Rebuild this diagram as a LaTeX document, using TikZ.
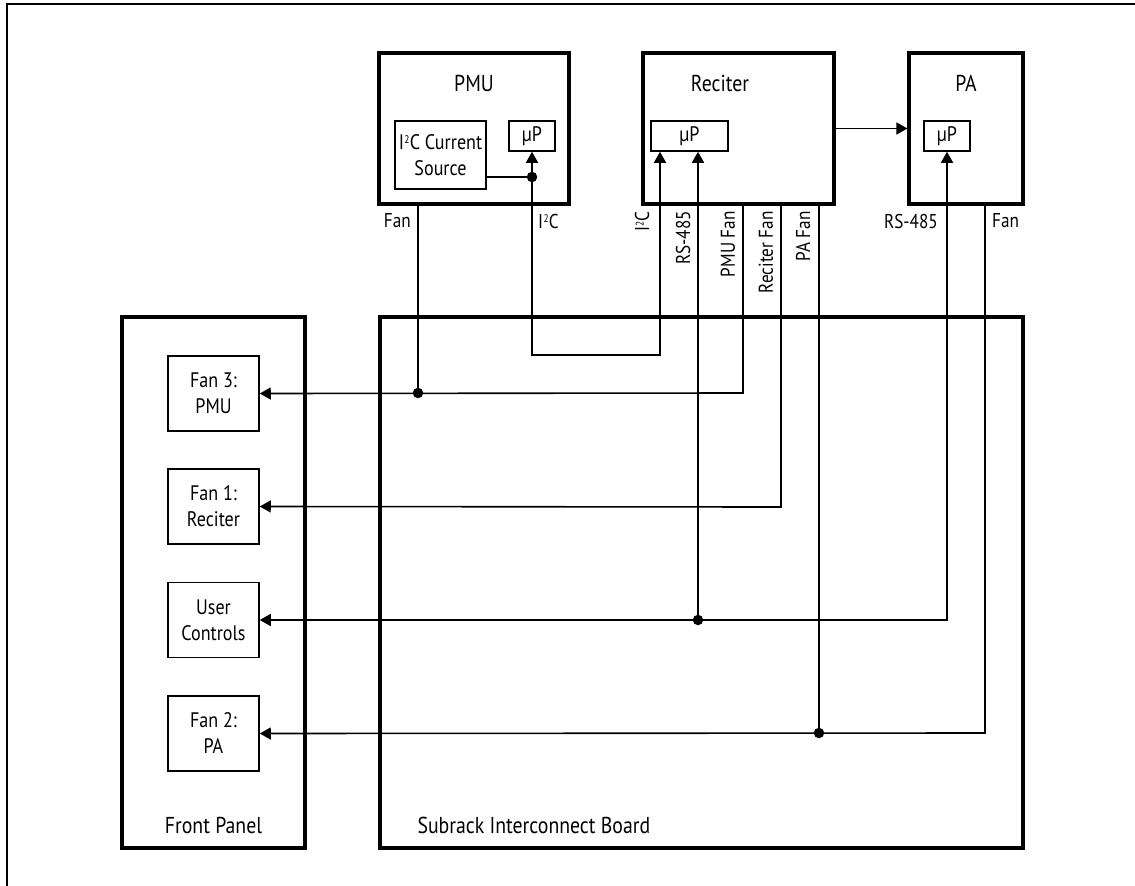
\documentclass[tikz,border=0pt]{standalone}
\usepackage{fontspec}
\setmainfont{PT Sans}[FakeStretch=0.86]
\usetikzlibrary{arrows.meta}
\newcommand{\IIC}{I\kern0.02em\raisebox{0.55ex}{\fontsize{11}{11}\selectfont 2}\kern0.01em C}
\begin{document}
\begin{tikzpicture}[x=1pt,y=-1pt,
  thickbox/.style={draw, line width=3.2pt, inner sep=0pt},
  thinbox/.style={draw, line width=1.5pt, inner sep=0pt, align=center, font=\fontsize{21}{26}\selectfont},
  wire/.style={line width=1.6pt},
  tip/.style={-{Triangle[length=11pt,width=12pt]}},
  tiptwo/.style={{Triangle[length=11pt,width=12pt]}-{Triangle[length=11pt,width=12pt]}},
  jdot/.style={circle, fill, inner sep=0pt, minimum size=10.5pt},
  ttl/.style={font=\fontsize{23}{27}\selectfont},
  lbl/.style={font=\fontsize{20}{24}\selectfont, inner sep=0pt},
  vlbl/.style={font=\fontsize{20}{24}\selectfont, inner sep=0pt, rotate=90, anchor=east}]
\useasboundingbox (0,0) rectangle (1135,886);
% outer frame
\draw[line width=2.6pt] (7,886) -- (7,4) -- (1135,4);

% top units
\node[thickbox, minimum width=190pt, minimum height=151pt] (pmu) at (474,128.5) {};
\node[thickbox, minimum width=191pt, minimum height=151pt] (rec) at (738.5,128.5) {};
\node[thickbox, minimum width=114pt, minimum height=151pt] (pa) at (966,128.5) {};
\node[ttl] (pmut) at (474,83) {PMU};
\node[ttl] (rect) at (720,83) {Reciter};
\node[ttl] (pat) at (966,83) {PA};

\node[thinbox, minimum width=91pt, minimum height=68pt] (cs) at (440.5,155) {\IIC\ Current\\Source};
\node[thinbox, minimum width=46pt, minimum height=30pt] (pmuup) at (532,136) {µP};
\node[thinbox, minimum width=77pt, minimum height=30pt] (recup) at (689.5,136) {µP};
\node[thinbox, minimum width=46pt, minimum height=30pt] (paup) at (947,136) {µP};

% bottom boards
\node[thickbox, minimum width=183pt, minimum height=531pt] (fp) at (213.5,582.5) {};
\node[thickbox, minimum width=643pt, minimum height=531pt] (sib) at (701.5,582.5) {};
\node[ttl] (fpt) at (213.5,825) {Front Panel};
\node[ttl, anchor=west] (sibt) at (414,825) {Subrack Interconnect Board};

\node[thinbox, minimum width=91pt, minimum height=75pt] (f3) at (213.5,393.5) {Fan 3:\\PMU};
\node[thinbox, minimum width=91pt, minimum height=75pt] (f1) at (213.5,506.5) {Fan 1:\\Reciter};
\node[thinbox, minimum width=91pt, minimum height=75pt] (uc) at (213.5,620) {User\\Controls};
\node[thinbox, minimum width=91pt, minimum height=75pt] (f2) at (213.5,733.5) {Fan 2:\\PA};

% junctions and corners
\coordinate (dcs) at (532,177);
\coordinate (i2cL) at (532,355);
\coordinate (i2cR) at (660,355);
\coordinate (rsdot) at (698,620);
\coordinate (rsR) at (947,620);
\coordinate (pmufan) at (418,393);
\coordinate (pmufanR) at (743,393);
\coordinate (recfan) at (781,507);
\coordinate (pafan) at (819,733);
\coordinate (pafanR) at (985,733);

% connectors
\draw[wire] (cs.east |- dcs) -- (dcs);
\draw[wire, tiptwo] (pmuup.south) -- (i2cL) -- (i2cR) -- (recup.south -| i2cR);
\draw[wire, tiptwo] (uc.east) -- (rsR) -- (paup.south);
\draw[wire, tip] (rsdot) -- (recup.south -| rsdot);
\draw[wire] (pmu.south -| pmufan) -- (pmufan);
\draw[wire, tip] (rec.south -| pmufanR) -- (pmufanR) -- (f3.east);
\draw[wire, tip] (rec.south -| recfan) -- (recfan) -- (f1.east);
\draw[wire] (rec.south -| pafan) -- (pafan);
\draw[wire, tip] (pa.south -| pafanR) -- (pafanR) -- (f2.east);
\draw[wire, tip] (rec.east) -- (pa.west);

\node[jdot] (j1) at (dcs) {};
\node[jdot] (j2) at (pmufan) {};
\node[jdot] (j3) at (rsdot) {};
\node[jdot] (j4) at (pafan) {};

% labels
\node[lbl, anchor=east] (lfan1) at (411,221) {Fan};
\node[lbl, anchor=west] (li2c1) at (538,221) {\IIC};
\node[vlbl] (li2c2) at (642,211) {\IIC};
\node[vlbl] (lrs1) at (683,211) {RS-485};
\node[vlbl] (lpmuf) at (728,211) {PMU Fan};
\node[vlbl] (lrecf) at (766,211) {Reciter Fan};
\node[vlbl] (lpaf) at (803,211) {PA Fan};
\node[lbl, anchor=east] (lrs2) at (938,221) {RS-485};
\node[lbl, anchor=west] (lfan2) at (992,221) {Fan};
\end{tikzpicture}
\end{document}
